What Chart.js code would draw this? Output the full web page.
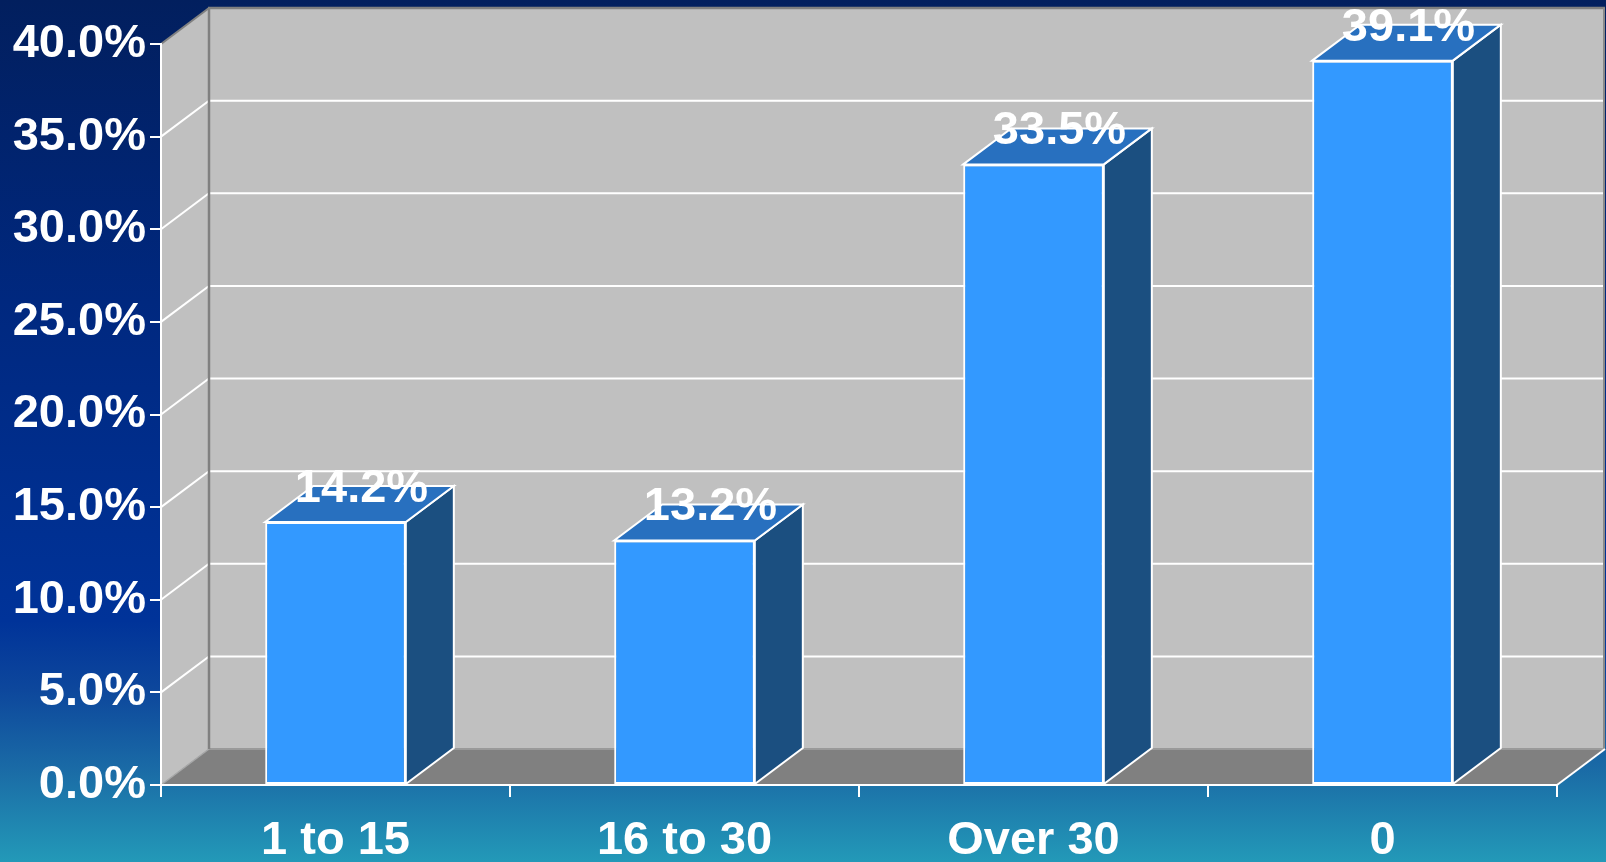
<!DOCTYPE html>
<html>
<head>
<meta charset="utf-8">
<script src="https://cdn.jsdelivr.net/npm/chart.js@4/dist/chart.umd.min.js"></script>
<style>
  html, body { margin: 0; padding: 0; overflow: hidden; background: #0a2a7a; }
  canvas { display: block; }
</style>
</head>
<body>
<canvas id="c" width="1606" height="862"></canvas>
<script>
// ---- data ----
const categories = ['1 to 15', '16 to 30', 'Over 30', '0'];
const values = [14.2, 13.2, 33.5, 39.1];
const valueLabels = ['14.2%', '13.2%', '33.5%', '39.1%'];
const yTickValues = [0, 5, 10, 15, 20, 25, 30, 35, 40];
const yTickLabels = ['0.0%', '5.0%', '10.0%', '15.0%', '20.0%', '25.0%', '30.0%', '35.0%', '40.0%'];

// ---- style ----
const DX = 48, DY = -36;          // 3D depth offset
const FONT = 'bold 47px "Liberation Sans", Arial, sans-serif';

function poly(ctx, pts, fill, stroke, lw) {
  ctx.beginPath();
  ctx.moveTo(pts[0][0], pts[0][1]);
  for (let i = 1; i < pts.length; i++) ctx.lineTo(pts[i][0], pts[i][1]);
  ctx.closePath();
  if (fill) { ctx.fillStyle = fill; ctx.fill(); }
  if (stroke) { ctx.strokeStyle = stroke; ctx.lineWidth = lw || 2; ctx.lineJoin = 'miter'; ctx.stroke(); }
}
function line(ctx, x1, y1, x2, y2, color, lw) {
  ctx.beginPath();
  ctx.moveTo(x1, y1); ctx.lineTo(x2, y2);
  ctx.strokeStyle = color; ctx.lineWidth = lw; ctx.stroke();
}

const threeD = {
  id: 'threeD',
  beforeDraw(chart) {
    const { ctx, chartArea: a, scales: { y } } = chart;
    ctx.save();
    // background gradient
    const g = ctx.createLinearGradient(0, 0, 0, chart.height);
    g.addColorStop(0.00, '#021f5e');
    g.addColorStop(0.35, '#00287f');
    g.addColorStop(0.72, '#003399');
    g.addColorStop(0.80, '#0d479c');
    g.addColorStop(0.90, '#1b6ea7');
    g.addColorStop(1.00, '#2399b8');
    ctx.fillStyle = g;
    ctx.fillRect(0, 0, chart.width, chart.height);

    const L = a.left, R = a.right;
    const T = y.getPixelForValue(yTickValues[yTickValues.length - 1]);
    const B = y.getPixelForValue(yTickValues[0]);

    // back wall
    poly(ctx, [[L + DX, T + DY], [R + DX, T + DY], [R + DX, B + DY], [L + DX, B + DY]], '#c0c0c0');
    // left wall
    poly(ctx, [[L, T], [L + DX, T + DY], [L + DX, B + DY], [L, B]], '#c0c0c0');
    // floor
    poly(ctx, [[L, B], [L + DX, B + DY], [R + DX, B + DY], [R, B]], '#808080');

    // gridlines on walls
    ctx.lineCap = 'butt';
    for (let i = 1; i < yTickValues.length - 1; i++) {
      const py = y.getPixelForValue(yTickValues[i]);
      ctx.beginPath();
      ctx.moveTo(L, py);
      ctx.lineTo(L + DX, py + DY);
      ctx.lineTo(R + DX, py + DY);
      ctx.strokeStyle = '#ffffff';
      ctx.lineWidth = 2;
      ctx.stroke();
    }

    // wall edges
    line(ctx, L + DX, B + DY, R + DX, B + DY, '#9a9a9a', 2);
    line(ctx, L, B, L + DX, B + DY, '#a8a8a8', 1.5);
    line(ctx, L + DX, T + DY, L + DX, B + DY, '#808080', 2.5);
    line(ctx, L + DX - 1, T + DY, R + DX, T + DY, '#808080', 2.5);
    line(ctx, L, T, L + DX, T + DY, '#808080', 2);
    line(ctx, R + DX - 1, T + DY, R + DX - 1, B + DY, '#8a8a8a', 2);
    line(ctx, R, B, R + DX, B + DY, '#ffffff', 2);
    ctx.restore();
  },
  afterDatasetsDraw(chart) {
    const { ctx } = chart;
    const meta = chart.getDatasetMeta(0);
    ctx.save();
    meta.data.forEach((el, i) => {
      const p = el.getProps(['x', 'y', 'base', 'width'], true);
      const l = p.x - p.width / 2, r = p.x + p.width / 2, t = p.y, b = p.base;
      // side face
      poly(ctx, [[r, t], [r + DX, t + DY], [r + DX, b + DY], [r, b]], '#1b4f80', '#ffffff', 2);
      // top face
      poly(ctx, [[l, t], [l + DX, t + DY], [r + DX, t + DY], [r, t]], '#2870bf', '#ffffff', 2);
    });
    // value labels
    ctx.font = FONT;
    ctx.fillStyle = '#ffffff';
    ctx.textAlign = 'center';
    ctx.textBaseline = 'middle';
    meta.data.forEach((el, i) => {
      const p = el.getProps(['x', 'y'], true);
      ctx.fillText(valueLabels[i], p.x + DX / 2 + 2, p.y + DY + 3);
    });
    ctx.restore();
  }
};

new Chart(document.getElementById('c'), {
  type: 'bar',
  data: {
    labels: categories,
    datasets: [{
      data: values,
      backgroundColor: '#3399ff',
      borderColor: '#ffffff',
      borderWidth: 2,
      borderSkipped: false,
      categoryPercentage: 1.0,
      barPercentage: 0.403
    }]
  },
  options: {
    responsive: false,
    animation: false,
    devicePixelRatio: 1,
    layout: { padding: { top: 44, right: 49, left: 0, bottom: 0 } },
    plugins: { legend: { display: false }, tooltip: { enabled: false } },
    scales: {
      x: {
        grid: { drawOnChartArea: false, drawTicks: true, tickLength: 12, color: '#ffffff', lineWidth: 2, offset: true },
        border: { display: true, color: '#ffffff', width: 2 },
        ticks: {
          color: '#ffffff', padding: 16, autoSkip: false, maxRotation: 0,
          font: { family: '"Liberation Sans", Arial, sans-serif', size: 47, weight: 'bold' }
        },
        afterFit(scale) { scale.height = 77; }
      },
      y: {
        min: yTickValues[0],
        max: yTickValues[yTickValues.length - 1],
        grid: { drawOnChartArea: false, drawTicks: true, tickLength: 11, color: '#ffffff', lineWidth: 2 },
        border: { display: true, color: '#ffffff', width: 2 },
        ticks: {
          stepSize: 5,
          color: '#ffffff', padding: 4,
          font: { family: '"Liberation Sans", Arial, sans-serif', size: 47, weight: 'bold' },
          callback(v) { const i = yTickValues.indexOf(v); return i >= 0 ? yTickLabels[i] : ''; }
        },
        afterFit(scale) { scale.width = 161; }
      }
    }
  },
  plugins: [threeD]
});
</script>
</body>
</html>
